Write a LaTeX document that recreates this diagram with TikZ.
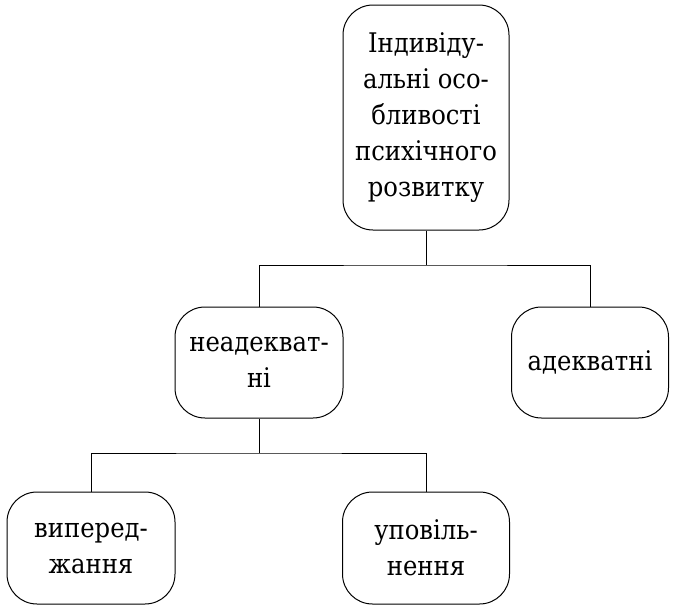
\documentclass[tikz,border=0pt]{standalone}
\usepackage{fontspec}
\setmainfont{DejaVu Serif}[FakeStretch=0.9]
\begin{document}
\begin{tikzpicture}[x=1pt,y=-1pt,
  box/.style={draw,line width=1pt,rounded corners=30pt,align=center,inner sep=0pt,
    font=\fontsize{27}{36}\selectfont},
  link/.style={line width=1pt}]
\useasboundingbox (0,0) rectangle (673,606);
\node[box,minimum width=166pt,minimum height=225pt] (top) at (426,117.5)
  {Індивіду-\\альні осо-\\бливості\\психічного\\розвитку};
\node[box,minimum width=168pt,minimum height=111pt] (neadek) at (259,362.5) {неадекват-\\ні};
\node[box,minimum width=157pt,minimum height=111pt] (adek) at (590,362.5) {адекватні};
\node[box,minimum width=168pt,minimum height=112pt] (vyper) at (91,548) {виперед-\\жання};
\node[box,minimum width=167pt,minimum height=112pt] (upov) at (426,548) {уповіль-\\нення};
\coordinate (j1) at (426,265);
\coordinate (j2) at (259,453);
\draw[link] (top.south) -- (j1);
\draw[link] (neadek.north) |- (j1) -| (adek.north);
\draw[link] (neadek.south) -- (j2);
\draw[link] (vyper.north) |- (j2) -| (upov.north);
\end{tikzpicture}
\end{document}
